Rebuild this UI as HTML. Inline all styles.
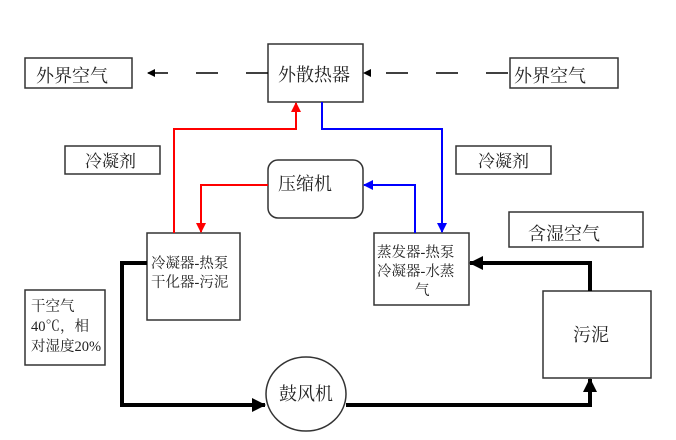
<!DOCTYPE html>
<html><head><meta charset="utf-8"><style>
body{margin:0;background:#fff;}
svg text{font-family:"Liberation Serif","Noto Serif CJK SC",serif;fill:#222;}
</style></head><body>
<svg width="676" height="435" viewBox="0 0 676 435" xmlns="http://www.w3.org/2000/svg">
<defs>
<marker id="ak" markerWidth="8" markerHeight="8" refX="7" refY="4" orient="auto" markerUnits="userSpaceOnUse"><path d="M0,0 L8,4 L0,8 z" fill="#000"/></marker>
<marker id="ab" markerWidth="14" markerHeight="14" refX="13" refY="7" orient="auto" markerUnits="userSpaceOnUse"><path d="M0,0 L14,7 L0,14 z" fill="#000"/></marker>
<marker id="ar" markerWidth="10" markerHeight="10" refX="9" refY="5" orient="auto" markerUnits="userSpaceOnUse"><path d="M0,0 L10,5 L0,10 z" fill="#f00"/></marker>
<marker id="au" markerWidth="10" markerHeight="10" refX="9" refY="5" orient="auto" markerUnits="userSpaceOnUse"><path d="M0,0 L10,5 L0,10 z" fill="#00f"/></marker>
</defs>
<g fill="#fff" stroke="#333" stroke-width="1.5">
<rect x="268" y="44" width="95" height="58"/>
<rect x="25" y="58" width="107" height="30"/>
<rect x="510" y="58" width="108" height="30"/>
<rect x="65" y="146" width="95" height="28"/>
<rect x="456" y="146" width="95" height="28"/>
<rect x="268" y="160" width="95" height="58" rx="10"/>
<rect x="147" y="233" width="93" height="87"/>
<rect x="374" y="233" width="95" height="72"/>
<rect x="509" y="212" width="134" height="35"/>
<rect x="25" y="290" width="80" height="75"/>
<rect x="543" y="291" width="108" height="87"/>
<ellipse cx="306" cy="394" rx="40" ry="37"/>
</g>
<g stroke="#000" stroke-width="1.5" fill="none">
<line x1="268" y1="73" x2="148" y2="73" stroke-dasharray="22,28" marker-end="url(#ak)"/>
<line x1="508" y1="73" x2="364" y2="73" stroke-dasharray="22,28" marker-end="url(#ak)"/>
</g>
<g fill="none" stroke-width="2">
<polyline points="174,233 174,129 296,129 296,103" stroke="#f00" marker-end="url(#ar)"/>
<polyline points="268,185 201,185 201,232" stroke="#f00" marker-end="url(#ar)"/>
<polyline points="322,102 322,129 442,129 442,232" stroke="#00f" marker-end="url(#au)"/>
<polyline points="415,233 415,185 364,185" stroke="#00f" marker-end="url(#au)"/>
</g>
<g fill="none" stroke="#000" stroke-width="4">
<polyline points="147,263 122,263 122,405 265,405" marker-end="url(#ab)"/>
<polyline points="346,405 590,405 590,379" marker-end="url(#ab)"/>
<polyline points="590,291 590,263 470,263" marker-end="url(#ab)"/>
</g>
<g font-size="18">
<text x="278" y="81">外散热器</text>
<text x="36" y="82">外界空气</text>
<text x="514" y="82">外界空气</text>
<text x="85" y="167" font-size="17">冷凝剂</text>
<text x="478" y="167" font-size="17">冷凝剂</text>
<text x="278" y="190">压缩机</text>
<text x="528" y="240">含湿空气</text>
<text x="573" y="341">污泥</text>
<text x="279" y="400">鼓风机</text>
</g>
<g font-size="14.5">
<text x="151" y="268">冷凝器-热泵</text>
<text x="151" y="287">干化器-污泥</text>
<text x="377" y="257">蒸发器-热泵</text>
<text x="377" y="276">冷凝器-水蒸</text>
<text x="415" y="295">气</text>
<text x="31" y="311">干空气</text>
<text x="31" y="331">40℃，相</text>
<text x="31" y="351">对湿度20%</text>
</g>
</svg>
</body></html>
